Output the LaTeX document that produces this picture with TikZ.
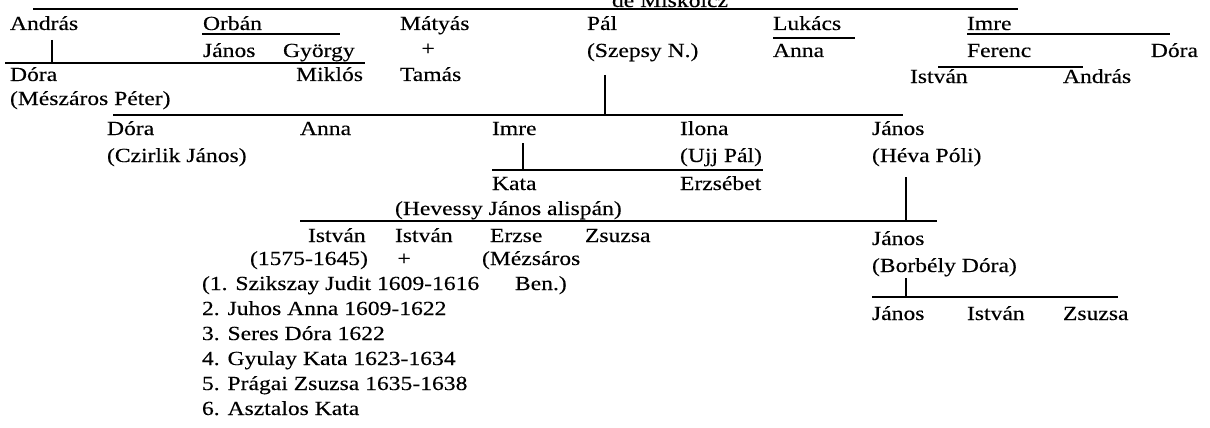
\documentclass[tikz,border=0pt]{standalone}
\usepackage{fontspec}
\setmainfont{Liberation Serif}[FakeStretch=1.18,FakeBold=0.3]
\begin{document}
\begin{tikzpicture}[x=1pt,y=-1pt,line width=1.5pt,
  nm/.style={anchor=base west,inner sep=0pt,outer sep=0pt,font=\fontsize{20}{25}\selectfont},
  nr/.style={nm,anchor=base east},
  nc/.style={nm,anchor=base},
  bar/.style={line width=1.6pt}]
\useasboundingbox (0,0) rectangle (1210,428);
% text
\node[nm] (miskolcz) at (612,7) {de Miskolcz};
\node[nm] (andras) at (10,30) {András};
\node[nm] (orban) at (203,30) {Orbán};
\node[nm] (matyas) at (400,30) {Mátyás};
\node[nm] (pal) at (587,30) {Pál};
\node[nm] (lukacs) at (773,30) {Lukács};
\node[nm] (imreA) at (967,30) {Imre};
\node[nm] (janosA) at (203,57) {János};
\node[nm] (gyorgy) at (283,57) {György};
\node[nc] (plusA) at (428,55) {+};
\node[nm] (szepsy) at (587,57) {(Szepsy N.)};
\node[nm] (annaA) at (773,57) {Anna};
\node[nm] (ferenc) at (967,57) {Ferenc};
\node[nr] (doraA) at (1198,57) {Dóra};
\node[nm] (doraB) at (10,81) {Dóra};
\node[nr] (miklos) at (363,81) {Miklós};
\node[nm] (tamas) at (400,81) {Tamás};
\node[nm] (istvanA) at (910,83) {István};
\node[nm] (andrasB) at (1063,83) {András};
\node[nm] (meszaros) at (10,105) {(Mészáros Péter)};
\node[nm] (doraC) at (107,135) {Dóra};
\node[nm] (annaB) at (300,135) {Anna};
\node[nm] (imreB) at (492,135) {Imre};
\node[nm] (ilona) at (680,135) {Ilona};
\node[nm] (janosB) at (872,135) {János};
\node[nm] (czirlik) at (107,162) {(Czirlik János)};
\node[nm] (ujj) at (680,162) {(Ujj Pál)};
\node[nm] (heva) at (872,162) {(Héva Póli)};
\node[nm] (kata) at (492,190) {Kata};
\node[nm] (erzsebet) at (680,190) {Erzsébet};
\node[nm] (hevessy) at (395,215) {(Hevessy János alispán)};
\node[nm] (istvanB) at (308,242) {István};
\node[nm] (istvanC) at (395,242) {István};
\node[nm] (erzse) at (490,242) {Erzse};
\node[nm] (zsuzsaA) at (585,242) {Zsuzsa};
\node[nm] (janosC) at (872,245) {János};
\node[nm] (years) at (250,265) {(1575-1645)};
\node[nc] (plusB) at (404,265) {+};
\node[nm] (mezsaros) at (482,265) {(Mézsáros};
\node[nm] (borbely) at (872,272) {(Borbély Dóra)};
\node[nm] (wifeA) at (202,290) {(1. Szikszay Judit 1609-1616};
\node[nm] (ben) at (515,290) {Ben.)};
\node[nm] (wifeB) at (202,315) {2. Juhos Anna 1609-1622};
\node[nm] (wifeC) at (202,340) {3. Seres Dóra 1622};
\node[nm] (wifeD) at (202,365) {4. Gyulay Kata 1623-1634};
\node[nm] (wifeE) at (202,390) {5. Prágai Zsuzsa 1635-1638};
\node[nm] (wifeF) at (202,415) {6. Asztalos Kata};
\node[nm] (janosD) at (872,320) {János};
\node[nm] (istvanD) at (967,320) {István};
\node[nm] (zsuzsaB) at (1063,320) {Zsuzsa};
% bar end points
\coordinate (topL) at (33,9);   \coordinate (topR) at (1018,9);
\coordinate (orbL) at (202,34); \coordinate (orbR) at (340,34);
\coordinate (andT) at (52,40);  \coordinate (andB) at (52,63);
\coordinate (andL) at (5,63);   \coordinate (andR) at (365,63);
\coordinate (lukL) at (773,38); \coordinate (lukR) at (855,38);
\coordinate (imrL) at (967,34); \coordinate (imrR) at (1170,34);
\coordinate (ferL) at (938,67); \coordinate (ferR) at (1083,67);
\coordinate (palT) at (605,75); \coordinate (palB) at (605,115);
\coordinate (palL) at (113,115);\coordinate (palR) at (903,115);
\coordinate (imbT) at (523,143);\coordinate (imbB) at (523,170);
\coordinate (imbL) at (492,170);\coordinate (imbR) at (763,170);
\coordinate (janT) at (906,177);\coordinate (janB) at (906,221);
\coordinate (janL) at (300,221);\coordinate (janR) at (937,221);
\coordinate (jcT) at (906,278); \coordinate (jcB) at (906,297);
\coordinate (jcL) at (872,297); \coordinate (jcR) at (1118,297);
% connectors
\draw[bar] (topL) -- (topR);
\draw[bar] (orbL) -- (orbR);
\draw[bar] (andT) -- (andB);
\draw[bar] (andL) -- (andR);
\draw[bar] (lukL) -- (lukR);
\draw[bar] (imrL) -- (imrR);
\draw[bar] (ferL) -- (ferR);
\draw[bar] (palT) -- (palB);
\draw[bar] (palL) -- (palR);
\draw[bar] (imbT) -- (imbB);
\draw[bar] (imbL) -- (imbR);
\draw[bar] (janT) -- (janB);
\draw[bar] (janL) -- (janR);
\draw[bar] (jcT) -- (jcB);
\draw[bar] (jcL) -- (jcR);
\end{tikzpicture}
\end{document}
